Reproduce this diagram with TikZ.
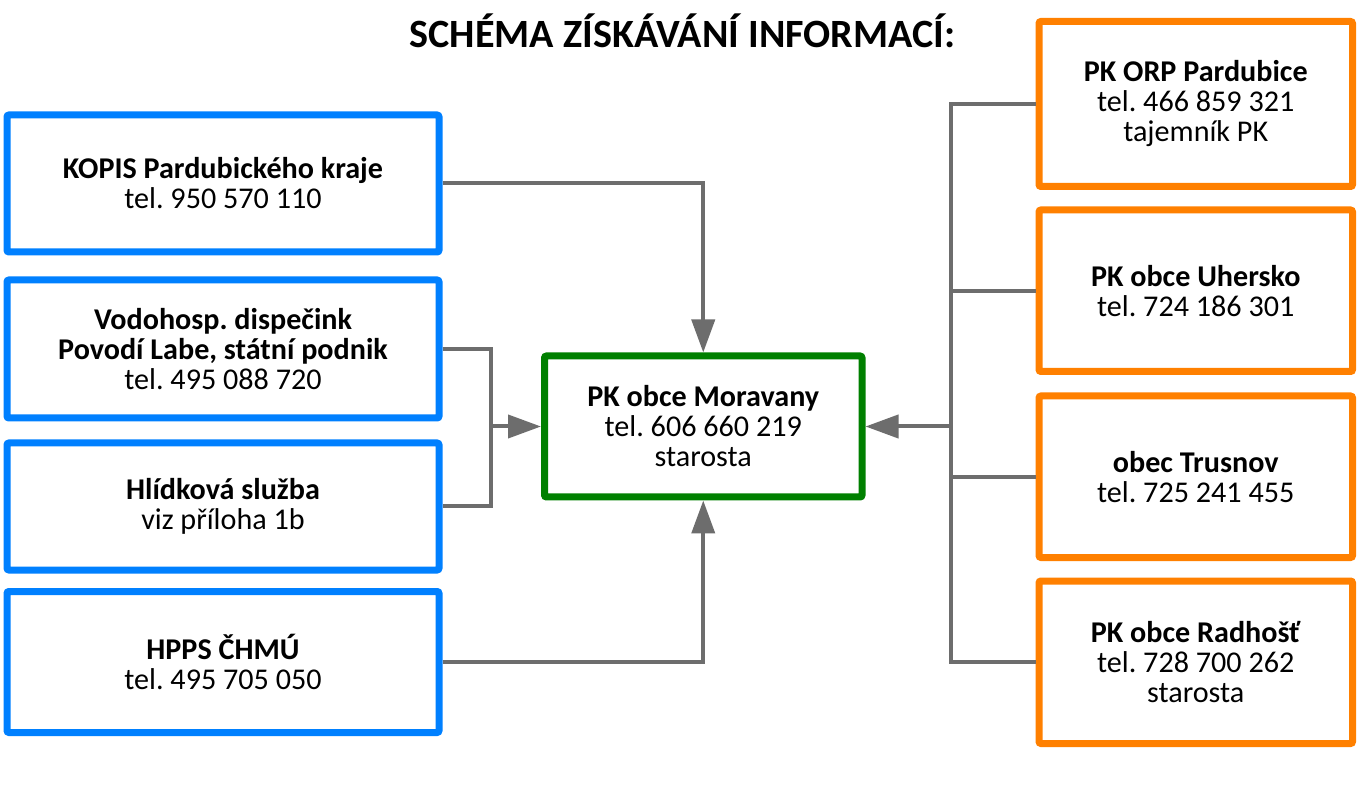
\documentclass[tikz,border=0pt]{standalone}
\usepackage{fontspec}
\setmainfont{Carlito}
\usetikzlibrary{arrows.meta}
\definecolor{cblue}{HTML}{0080FF}
\definecolor{corange}{HTML}{FF8000}
\definecolor{cgreen}{HTML}{008000}
\definecolor{cgray}{HTML}{6D6D6D}
\frenchspacing
\tikzset{
  box/.style={draw, line width=5.25pt, rounded corners=1.5pt, inner sep=0pt,
    align=center, font=\fontsize{22.6}{22.5}\selectfont, text=black},
  bluebox/.style={box, draw=cblue, minimum width=0.75pt*432},
  orangebox/.style={box, draw=corange, minimum width=0.75pt*313.5},
  greenbox/.style={box, draw=cgreen, minimum width=0.75pt*317.5, minimum height=0.75pt*141},
  conn/.style={draw=cgray, line width=3pt},
  arr/.style={conn, -{Triangle[length=24.75pt, width=17.25pt]}},
}
\begin{document}
\begin{tikzpicture}[x=0.75pt, y=-0.75pt]
\useasboundingbox[fill=white] (0,0) rectangle (1360,787);
\node[anchor=base, font=\fontsize{30.1}{30}\selectfont\bfseries] (title) at (682.5,48) {SCHÉMA ZÍSKÁVÁNÍ INFORMACÍ:};
% left boxes
\node[bluebox, minimum height=0.75pt*137] (k) at (223,183.5) {\textbf{KOPIS Pardubického kraje}\\tel. 950 570 110};
\node[bluebox, minimum height=0.75pt*138] (v) at (223,349) {\textbf{Vodohosp. dispečink}\\\textbf{Povodí Labe, státní podnik}\\tel. 495 088 720};
\node[bluebox, minimum height=0.75pt*127] (h) at (223,506.5) {\textbf{Hlídková služba}\\viz příloha 1b};
\node[bluebox, minimum height=0.75pt*141] (c) at (223,662) {\textbf{HPPS ČHMÚ}\\tel. 495 705 050};
% centre
\node[greenbox] (m) at (703.25,426.5) {\textbf{PK obce Moravany}\\tel. 606 660 219\\starosta};
% right boxes
\node[orangebox, minimum height=0.75pt*165] (o1) at (1195.75,104) {\textbf{PK ORP Pardubice}\\tel. 466 859 321\\tajemník PK};
\node[orangebox, minimum height=0.75pt*161.5] (o2) at (1195.75,290.75) {\textbf{PK obce Uhersko}\\tel. 724 186 301};
\node[orangebox, minimum height=0.75pt*161.5] (o3) at (1195.75,476.75) {\textbf{obec Trusnov}\\tel. 725 241 455};
\node[orangebox, minimum height=0.75pt*162.5] (o4) at (1195.75,662.25) {\textbf{PK obce Radhošť}\\tel. 728 700 262\\starosta};
% connectors left
\draw[arr] (k.east) -| (m.north);
\draw[arr] (c.east) -| (m.south);
\coordinate (jx) at (491,0);
\coordinate (j) at (jx |- m.west);
\draw[conn] (v.east) -| (j) |- (h.east);
\draw[arr] (j) -- (m.west);
% connectors right
\coordinate (bx) at (951,0);
\draw[conn] (o1.west) -| (bx |- o4.west) -- (o4.west);
\draw[conn] (o2.west) -- (bx |- o2.west);
\draw[conn] (o3.west) -- (bx |- o3.west);
\draw[arr] (bx |- m.east) -- (m.east);
\end{tikzpicture}
\end{document}
